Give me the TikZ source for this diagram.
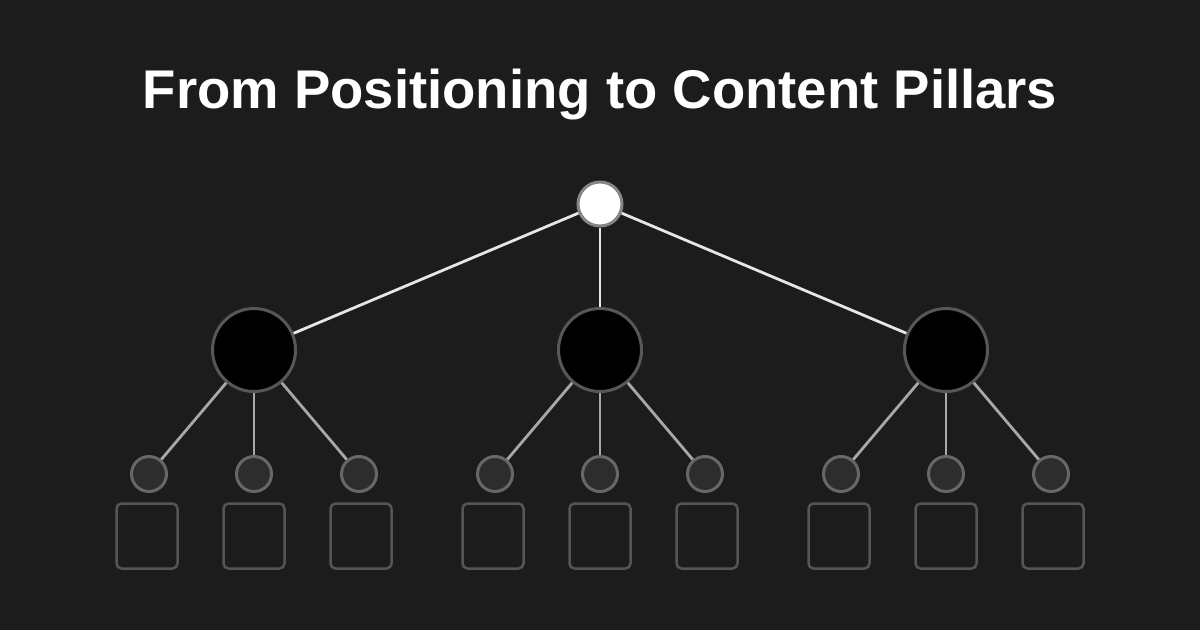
\documentclass[tikz,border=0pt]{standalone}
\usepackage{fontspec}
\setmainfont{Liberation Sans}
\definecolor{bg}{HTML}{1C1C1C}
\definecolor{toplink}{HTML}{E6E6E6}
\definecolor{sublink}{HTML}{A8A8A8}
\definecolor{topedge}{HTML}{858585}
\definecolor{bigedge}{HTML}{575757}
\definecolor{smallfill}{HTML}{2D2D2D}
\definecolor{smalledge}{HTML}{676767}
\definecolor{boxedge}{HTML}{555555}
\begin{document}
\begin{tikzpicture}[x=1pt,y=-1pt,
  rootnode/.style={circle,fill=white,draw=topedge,line width=3pt,minimum size=44pt,inner sep=0pt},
  pillar/.style={circle,fill=black,draw=bigedge,line width=3pt,minimum size=83pt,inner sep=0pt},
  subnode/.style={circle,fill=smallfill,draw=smalledge,line width=3pt,minimum size=35pt,inner sep=0pt},
  leafbox/.style={rectangle,rounded corners=5pt,draw=boxedge,line width=2.5pt,minimum width=61pt,minimum height=65pt,inner sep=0pt},
  toplinkstyle/.style={draw=toplink,line width=2.8pt},
  sublinkstyle/.style={draw=sublink,line width=2.8pt}]
\fill[bg] (0,0) rectangle (1200,630);
\useasboundingbox (0,0) rectangle (1200,630);
\node[text=white,font=\fontsize{54.5}{60}\selectfont\bfseries] (title) at (600,95) {From Positioning to Content Pillars};
\node[rootnode] (root) at (600,204) {};
\foreach \g/\cx in {a/254,b/600,c/946}{
  \node[pillar] (p\g) at (\cx,350) {};
  \draw[toplinkstyle] (root) -- (p\g);
  \foreach \i/\dx/\bx in {1/-105/-107,2/0/0,3/105/107}{
    \node[subnode] (s\g\i) at (\cx+\dx,474) {};
    \node[leafbox] (b\g\i) at (\cx+\bx,536) {};
    \draw[sublinkstyle] (p\g) -- (s\g\i);
  }
}
\end{tikzpicture}
\end{document}
